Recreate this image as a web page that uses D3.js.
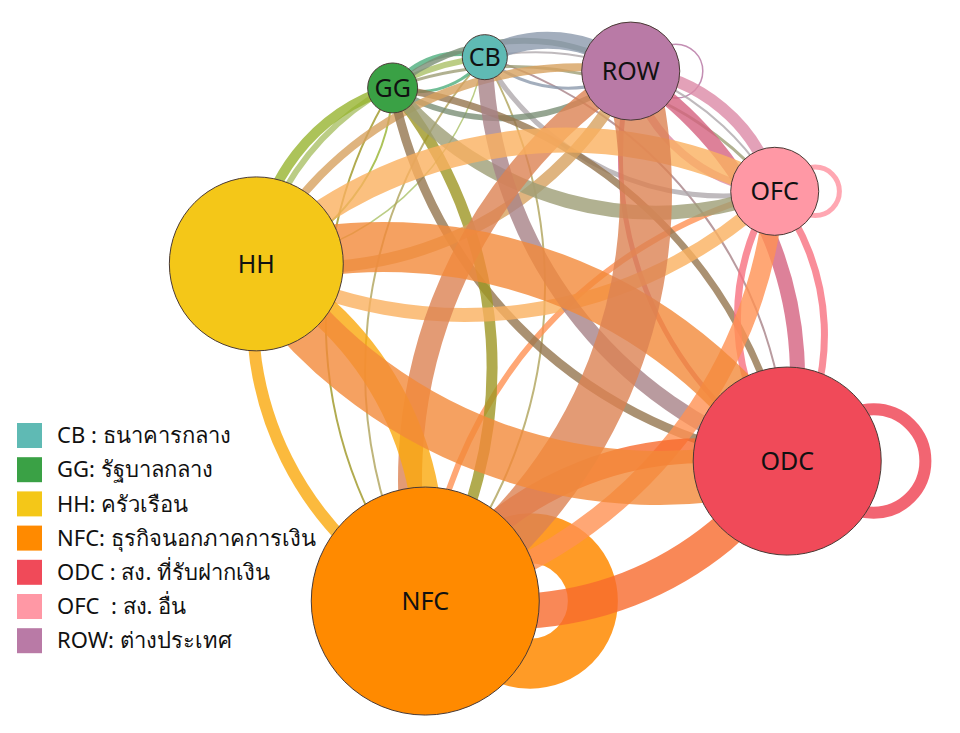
<!DOCTYPE html>
<html>
<head>
<meta charset="utf-8">
<script src="https://cdn.jsdelivr.net/npm/d3@7"></script>
<style>
  body { margin: 0; background: #fff; }
  svg { display: block; font-family: "Noto Sans", "Open Sans", sans-serif; }
</style>
</head>
<body>
<svg id="chart" width="960" height="733"></svg>
<script>
// sectors
const sectors = ['CB', 'GG', 'HH', 'NFC', 'ODC', 'OFC', 'ROW'];
const sectorNames = [
  'CB : ธนาคารกลาง',
  'GG: รัฐบาลกลาง',
  'HH: ครัวเรือน',
  'NFC: ธุรกิจนอกภาคการเงิน',
  'ODC : สง. ที่รับฝากเงิน',
  'OFC  : สง. อื่น',
  'ROW: ต่างประเทศ'
];
const sectorColors = ['#5fbab4', '#3aa145', '#f4c718', '#ff8a00', '#f04a59', '#ff98a5', '#b97aa6'];
const sectorSize = [39, 48, 582, 1000, 680, 149, 185];
// layout units (0-100) for node placement
const layoutX = [50.5, 40.9, 26.7, 44.3, 82.0, 80.7, 65.7];
const layoutY = [7.8, 12.0, 36.0, 82.0, 62.9, 26.1, 9.7];

// flows between sectors
const linkSource = ['HH', 'GG', 'HH', 'CB', 'HH', 'ROW', 'HH', 'OFC', 'HH', 'ODC', 'NFC', 'HH',
  'GG', 'CB', 'GG', 'ROW', 'GG', 'NFC', 'ODC', 'GG', 'OFC', 'GG',
  'CB', 'ROW', 'OFC', 'CB', 'ODC', 'CB', 'CB', 'NFC',
  'ROW', 'NFC', 'ROW', 'ODC', 'ROW', 'OFC', 'OFC', 'ODC', 'OFC', 'NFC', 'ODC', 'NFC'];
const linkTarget = ['GG', 'HH', 'CB', 'HH', 'ROW', 'HH', 'OFC', 'HH', 'ODC', 'HH', 'HH', 'NFC',
  'CB', 'GG', 'ROW', 'GG', 'NFC', 'GG', 'GG', 'ODC', 'GG', 'OFC',
  'ROW', 'CB', 'CB', 'OFC', 'CB', 'ODC', 'NFC', 'CB',
  'NFC', 'ROW', 'ODC', 'ROW', 'OFC', 'ROW', 'ODC', 'OFC', 'NFC', 'OFC', 'NFC', 'ODC'];
const linkValue = [10, 2, 6, 1.5, 8, 12, 25, 14, 50, 54, 12, 30,
  5, 3, 6, 6, 11, 2, 9, 7, 14, 3,
  17, 3, 5, 2, 16, 2, 2, 2,
  52, 24, 15, 5, 12, 8, 7, 7, 20, 6, 35, 25];

// flows within a sector
const loopSector = ['ROW', 'OFC', 'ODC', 'NFC'];
const loopValue = [1.5, 5, 12, 50];

const width = 960, height = 733;
const curve = 0.86;

const svg = d3.select('#chart');
const x = d3.scaleLinear().domain([0, 100]).range([0, width]);
const y = d3.scaleLinear().domain([0, 100]).range([0, height]);
const r = d3.scaleSqrt().domain([0, d3.max(sectorSize)]).range([0, 114]);
const w = d3.scaleLinear().domain([0, 50]).range([0, 50]);
const color = d3.scaleOrdinal().domain(sectors).range(sectorColors);

const nodes = sectors.map((s, i) => ({
  id: s,
  x: x(layoutX[i]),
  y: y(layoutY[i]),
  r: r(sectorSize[i])
}));
const byId = new Map(nodes.map(n => [n.id, n]));

const links = linkSource.map((s, i) => ({
  source: byId.get(s),
  target: byId.get(linkTarget[i]),
  value: linkValue[i]
})).sort((a, b) => a.value - b.value);

function arcPath(d) {
  const s = d.source, t = d.target;
  const dx = t.x - s.x, dy = t.y - s.y;
  const dr = Math.sqrt(dx * dx + dy * dy) * curve;
  return `M${s.x},${s.y}A${dr},${dr} 0 0,1 ${t.x},${t.y}`;
}

const gLinks = svg.append('g').attr('fill', 'none');

// self loops
loopSector.forEach((s, i) => {
  const n = byId.get(s);
  const lr = n.r * 0.55;
  gLinks.append('circle')
    .attr('cx', n.x + n.r * 0.92)
    .attr('cy', n.y)
    .attr('r', lr)
    .attr('stroke', color(s))
    .attr('stroke-opacity', 0.85)
    .attr('stroke-width', w(loopValue[i]));
});

gLinks.selectAll('path')
  .data(links)
  .join('path')
  .attr('d', arcPath)
  .attr('stroke', d => d3.interpolateRgb(color(d.source.id), color(d.target.id))(0.5))
  .attr('stroke-opacity', 0.8)
  .attr('stroke-width', d => w(d.value));

const gNodes = svg.append('g')
  .selectAll('g')
  .data(nodes)
  .join('g')
  .attr('transform', d => `translate(${d.x},${d.y})`);

gNodes.append('circle')
  .attr('r', d => d.r)
  .attr('fill', d => color(d.id))
  .attr('stroke', '#4a3a35')
  .attr('stroke-width', 1);

gNodes.append('text')
  .attr('text-anchor', 'middle')
  .attr('dy', '0.35em')
  .attr('font-size', 25)
  .attr('fill', '#111')
  .text(d => d.id);

// legend
const legend = svg.append('g').attr('transform', 'translate(17,423)');
const row = legend.selectAll('g')
  .data(sectors)
  .join('g')
  .attr('transform', (d, i) => `translate(0,${i * 34.2})`);
row.append('rect')
  .attr('width', 25)
  .attr('height', 25)
  .attr('fill', d => color(d));
row.append('text')
  .attr('x', 40)
  .attr('y', 12.5)
  .attr('dy', '0.35em')
  .attr('font-size', 22)
  .attr('fill', '#111')
  .style('white-space', 'pre')
  .text((d, i) => sectorNames[i]);
</script>
</body>
</html>
